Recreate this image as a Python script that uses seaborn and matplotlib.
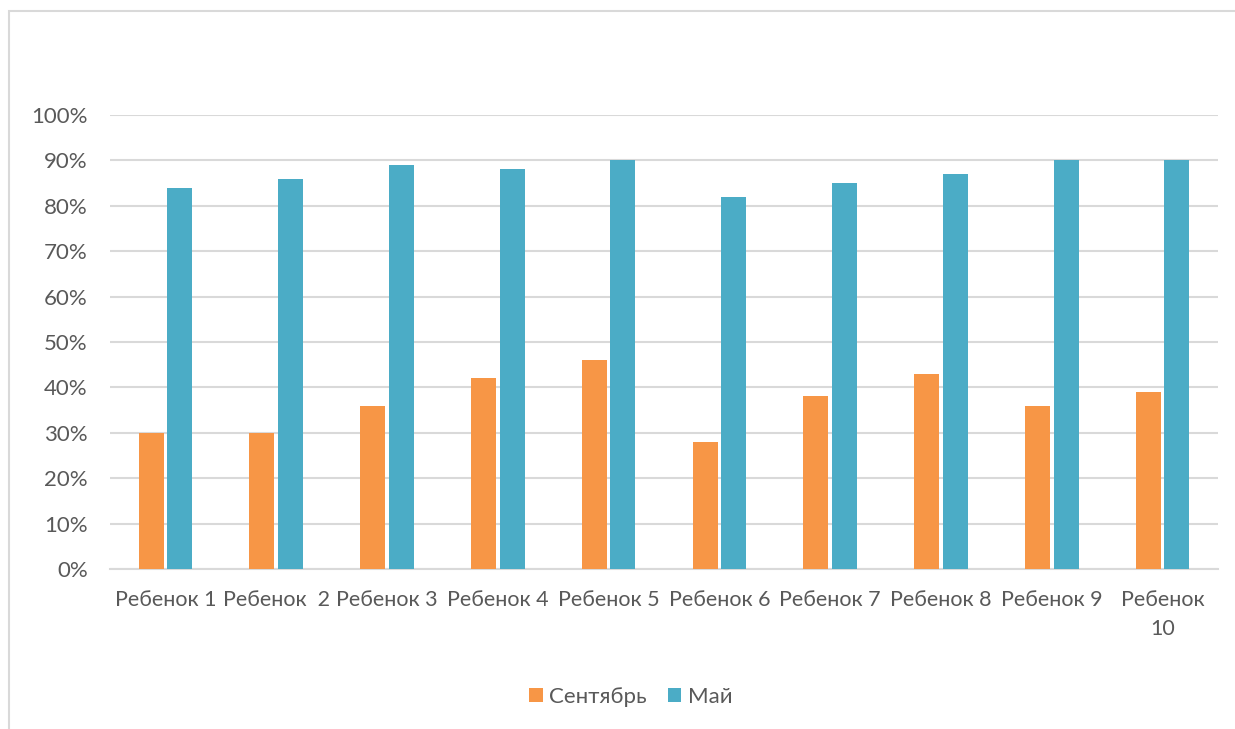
import matplotlib
matplotlib.use("Agg")
import matplotlib.pyplot as plt
import seaborn as sns
import pandas as pd
from matplotlib.patches import Rectangle, Patch

categories = ["Ребенок 1", "Ребенок  2", "Ребенок 3", "Ребенок 4", "Ребенок 5",
              "Ребенок 6", "Ребенок 7", "Ребенок 8", "Ребенок 9", "Ребенок\n10"]
september = [30, 30, 36, 42, 46, 28, 38, 43, 36, 39]
may = [84, 86, 89, 88, 90, 82, 85, 87, 90, 90]
series_names = ["Сентябрь", "Май"]
yticks = [0, 10, 20, 30, 40, 50, 60, 70, 80, 90, 100]

df = pd.DataFrame({
    "cat": categories * 2,
    "val": september + may,
    "series": [series_names[0]] * len(categories) + [series_names[1]] * len(categories),
})

sns.set_theme(style="white")
plt.rcParams['font.family'] = ['Lato', 'DejaVu Sans']
text_color = "#595959"

fig = plt.figure(figsize=(12.35, 7.29), dpi=100)
ax = fig.add_axes([110/1235, 1 - 569/729, (1218-110)/1235, (569-115)/729])

sns.barplot(data=df, x="cat", y="val", hue="series", order=categories,
            hue_order=series_names, palette=["#F79646", "#4BACC6"],
            width=0.515, gap=0.12, ax=ax, legend=False, saturation=1,
            edgecolor="none", zorder=3)

ax.set_ylim(0, 100)
ax.set_xlim(-0.5, len(categories) - 0.5)
ax.set_yticks(yticks)
ax.set_yticklabels([f"{v}%" for v in yticks])
ax.yaxis.grid(True, color="#D9D9D9", linewidth=1.5, zorder=0)
ax.set_axisbelow(True)
for s in ["left", "right", "top"]:
    ax.spines[s].set_visible(False)
ax.spines["bottom"].set_color("#D9D9D9")
ax.spines["bottom"].set_linewidth(1.5)
ax.spines["bottom"].set_zorder(1)
ax.tick_params(axis="y", length=0, pad=16, labelsize=16, labelcolor=text_color)
ax.tick_params(axis="x", length=0, pad=15, labelsize=15.5, labelcolor=text_color)
for lbl in ax.get_xticklabels():
    lbl.set_linespacing(1.6)
ax.set_xlabel("")
ax.set_ylabel("")

handles = [Patch(facecolor="#F79646", edgecolor="none"), Patch(facecolor="#4BACC6", edgecolor="none")]
leg = fig.legend(handles, series_names, loc="center", bbox_to_anchor=(631/1235, 1 - 697/729),
                 ncol=2, frameon=False, fontsize=16, handlelength=0.6, handleheight=0.6,
                 handletextpad=0.3, columnspacing=0.95)
for t in leg.get_texts():
    t.set_color(text_color)

fig.patches.append(Rectangle((9/1235, -0.05), 1.2, 1 - 11/729 + 0.05,
                             transform=fig.transFigure, fill=False,
                             edgecolor="#D9D9D9", linewidth=1.5))

fig.savefig("out.png", dpi=100)
